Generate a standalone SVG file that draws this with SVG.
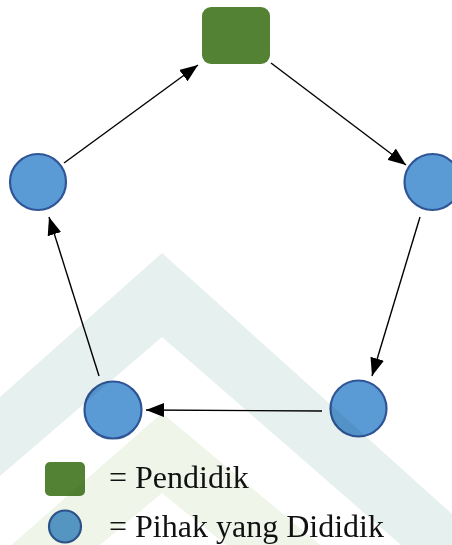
<svg xmlns="http://www.w3.org/2000/svg" width="452" height="545" viewBox="0 0 452 545">
  <style>
    .pendidik { fill: #548235; }
    .dididik { fill: #5b9bd5; stroke: #2f5597; stroke-width: 2.2; }
    .edge { fill: none; stroke: #000; stroke-width: 1.4; marker-end: url(#arrow); }
    .label { font-family: "Liberation Serif", "Times New Roman", serif; font-size: 32px; fill: #111; }
    .mark { mix-blend-mode: multiply; }
  </style>
  <defs>
    <marker id="arrow" viewBox="0 0 18 14" refX="18" refY="7" markerWidth="18" markerHeight="14" markerUnits="userSpaceOnUse" orient="auto">
      <path d="M0,0 L18,7 L0,14 Z" fill="#000"/>
    </marker>
  </defs>
  <rect width="452" height="545" fill="#fff"/>

  <!-- nodes -->
  <g id="node-pendidik">
    <rect class="pendidik" x="202" y="7" width="68" height="57" rx="9"/>
  </g>
  <g id="node-kiri">
    <circle class="dididik" cx="38" cy="182" r="28"/>
  </g>
  <g id="node-kanan">
    <circle class="dididik" cx="432.5" cy="182" r="28"/>
  </g>
  <g id="node-kanan-bawah">
    <circle class="dididik" cx="358.5" cy="408.5" r="28"/>
  </g>
  <g id="node-kiri-bawah">
    <circle class="dididik" cx="113" cy="410" r="28.5"/>
  </g>

  <!-- connectors -->
  <g id="connectors">
    <line class="edge" x1="64" y1="163" x2="198" y2="65"/>
    <line class="edge" x1="271" y1="63" x2="406" y2="165"/>
    <line class="edge" x1="420" y1="217" x2="372" y2="376"/>
    <line class="edge" x1="322" y1="411" x2="146" y2="410"/>
    <line class="edge" x1="99" y1="376" x2="49" y2="217"/>
  </g>

  <!-- legend -->
  <g id="legend">
    <rect class="pendidik" x="45" y="462" width="40" height="34" rx="5"/>
    <text class="label" x="109" y="488">= Pendidik</text>
    <circle cx="65" cy="526.5" r="16" fill="#5b9bd5" stroke="#2f5597" stroke-width="2.2"/>
    <text class="label" x="109" y="537">= Pihak yang Dididik</text>
  </g>

  <!-- background emblem -->
  <g id="emblem" class="mark">
    <polygon fill="#e6f0ee" points="162,253 452,514 452,545 401,545 162,337 0,476 0,397"/>
    <polygon fill="#eff5e8" points="162,413 320,545 226,545 162,493 100,545 0,545 0,555"/>
  </g>
</svg>
